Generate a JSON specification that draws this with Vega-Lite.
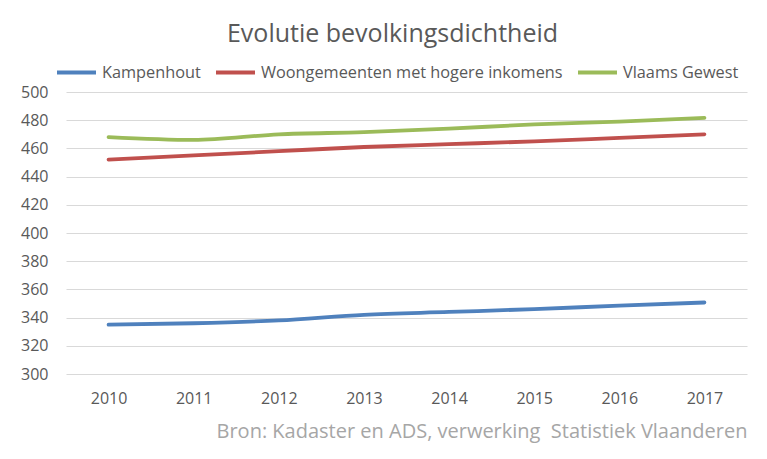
{
  "$schema": "https://vega.github.io/schema/vega-lite/v6.json",
  "autosize": "none",
  "width": 681,
  "height": 282,
  "padding": {"left": 66, "top": 92, "right": 20, "bottom": 85},
  "background": "white",
  "title": {
    "text": "Evolutie bevolkingsdichtheid",
    "font": "Open Sans",
    "fontSize": 25,
    "fontWeight": "normal",
    "color": "#595959",
    "anchor": "middle",
    "frame": "group",
    "dx": -14,
    "offset": 4
  },
  "data": {
    "values": [
      {"jaar": "2010", "reeks": "Kampenhout", "waarde": 335},
      {"jaar": "2011", "reeks": "Kampenhout", "waarde": 336},
      {"jaar": "2012", "reeks": "Kampenhout", "waarde": 338},
      {"jaar": "2013", "reeks": "Kampenhout", "waarde": 342},
      {"jaar": "2014", "reeks": "Kampenhout", "waarde": 344},
      {"jaar": "2015", "reeks": "Kampenhout", "waarde": 346},
      {"jaar": "2016", "reeks": "Kampenhout", "waarde": 348.5},
      {"jaar": "2017", "reeks": "Kampenhout", "waarde": 350.7},
      {"jaar": "2010", "reeks": "Woongemeenten met hogere inkomens", "waarde": 452},
      {"jaar": "2011", "reeks": "Woongemeenten met hogere inkomens", "waarde": 455},
      {"jaar": "2012", "reeks": "Woongemeenten met hogere inkomens", "waarde": 458},
      {"jaar": "2013", "reeks": "Woongemeenten met hogere inkomens", "waarde": 461},
      {"jaar": "2014", "reeks": "Woongemeenten met hogere inkomens", "waarde": 463},
      {"jaar": "2015", "reeks": "Woongemeenten met hogere inkomens", "waarde": 465},
      {"jaar": "2016", "reeks": "Woongemeenten met hogere inkomens", "waarde": 467.5},
      {"jaar": "2017", "reeks": "Woongemeenten met hogere inkomens", "waarde": 470},
      {"jaar": "2010", "reeks": "Vlaams Gewest", "waarde": 468},
      {"jaar": "2011", "reeks": "Vlaams Gewest", "waarde": 466},
      {"jaar": "2012", "reeks": "Vlaams Gewest", "waarde": 470},
      {"jaar": "2013", "reeks": "Vlaams Gewest", "waarde": 471.5},
      {"jaar": "2014", "reeks": "Vlaams Gewest", "waarde": 474},
      {"jaar": "2015", "reeks": "Vlaams Gewest", "waarde": 477},
      {"jaar": "2016", "reeks": "Vlaams Gewest", "waarde": 479},
      {"jaar": "2017", "reeks": "Vlaams Gewest", "waarde": 481.7}
    ]
  },
  "mark": {"type": "line", "strokeWidth": 3.8, "strokeCap": "round", "interpolate": "monotone"},
  "encoding": {
    "x": {
      "field": "jaar",
      "type": "ordinal",
      "scale": {"type": "point", "padding": 0.5},
      "axis": {
        "title": "Bron: Kadaster en ADS, verwerking \u00a0Statistiek Vlaanderen",
        "titleAnchor": "end",
        "titleFont": "Open Sans",
        "titleFontSize": 20,
        "titleFontWeight": "normal",
        "titleColor": "#a6a6a6",
        "titlePadding": 15,
        "labelAngle": 0,
        "labelFont": "Open Sans",
        "labelFontSize": 16,
        "labelColor": "#595959",
        "labelPadding": 16,
        "domain": false,
        "ticks": false,
        "grid": false
      }
    },
    "y": {
      "field": "waarde",
      "type": "quantitative",
      "scale": {"domain": [300, 500], "nice": false, "zero": false},
      "axis": {
        "title": null,
        "values": [300, 320, 340, 360, 380, 400, 420, 440, 460, 480, 500],
        "labelFont": "Open Sans",
        "labelFontSize": 16,
        "labelColor": "#595959",
        "labelPadding": 18,
        "domain": false,
        "ticks": false,
        "grid": true,
        "gridColor": "#d9d9d9",
        "gridWidth": 1
      }
    },
    "color": {
      "field": "reeks",
      "type": "nominal",
      "scale": {
        "domain": ["Kampenhout", "Woongemeenten met hogere inkomens", "Vlaams Gewest"],
        "range": ["#4f81bd", "#c0504d", "#9bbb59"]
      },
      "legend": {
        "title": null,
        "orient": "none",
        "direction": "horizontal",
        "legendX": -11,
        "legendY": -41,
        "symbolType": "stroke",
        "symbolStrokeWidth": 4,
        "symbolSize": 1521,
        "labelFont": "Open Sans",
        "labelFontSize": 16.3,
        "labelLimit": 0,
        "labelColor": "#595959",
        "labelOffset": 4,
        "columnPadding": 7
      }
    }
  },
  "config": {"view": {"stroke": null}}
}
